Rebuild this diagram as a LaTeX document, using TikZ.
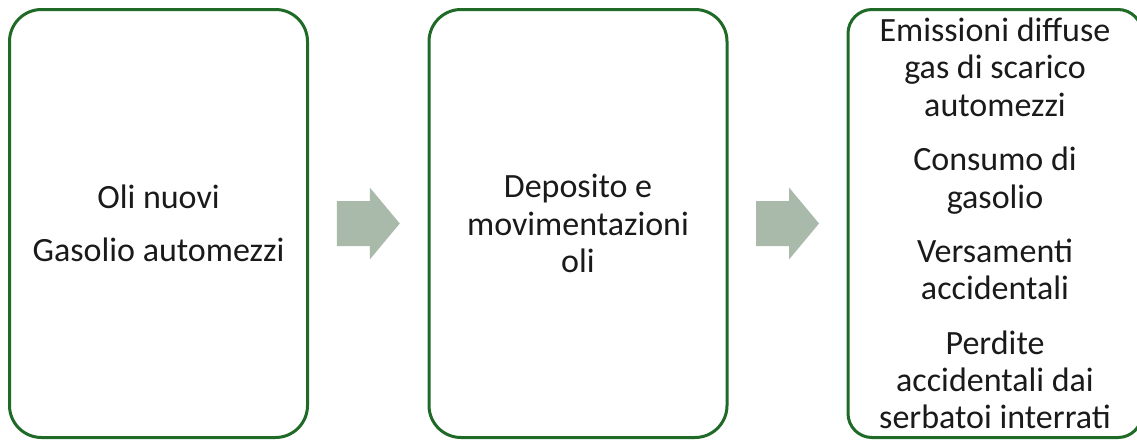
\documentclass[tikz,border=0pt]{standalone}
\usepackage{fontspec}
\setmainfont{Carlito}
\usetikzlibrary{calc}

\definecolor{boxgreen}{HTML}{1F6A27}
\definecolor{arrowfill}{RGB}{169,186,170}
\definecolor{txt}{HTML}{1A1A1A}

\tikzset{
  stagebox/.style={draw=boxgreen, line width=2.25pt, fill=white,
    rounded corners=24pt, minimum width=223.5pt, minimum height=321pt,
    inner sep=0pt, align=center, text=txt,
    font=\fontsize{25.5}{28.1}\selectfont},
  flowarrow/.style={fill=arrowfill, draw=none}
}

% paragraph gap inside a box
\newcommand{\pgap}{\\[12.6pt]}

\begin{document}
\begin{tikzpicture}[x=0.75pt, y=-0.75pt]
  \useasboundingbox (0,0) rectangle (1137,439);

  % the three stages
  \node[stagebox] (b1) at (158.5,223.5) {Oli nuovi\\[12pt] Gasolio automezzi};
  \node[stagebox] (b2) at (578,223.5) {Deposito e\\ movimentazioni\\ oli};
  \node[stagebox, minimum width=220.5pt, rounded corners=18pt] (b3) at (995,223.5)
    {Emissioni diffuse\\ gas di scarico\\ automezzi\pgap
     Consumo di\\ gasolio\pgap
     Versamenti\\ accidentali\pgap
     Perdite\\ accidentali dai\\ serbatoi interrati};

  % block arrows between the stages
  \coordinate (m1) at ($(b1.east)!0.5!(b2.west)$);
  \coordinate (m2) at ($(b2.east)!0.5!(b3.west)$);
  \foreach \m in {m1,m2} {
    \fill[flowarrow] ($(\m)+(-31.5,-22.5)$) -- ($(\m)+(1.5,-22.5)$)
      -- ($(\m)+(1.5,-36)$) -- ($(\m)+(31.5,0)$) -- ($(\m)+(1.5,36)$)
      -- ($(\m)+(1.5,22.5)$) -- ($(\m)+(-31.5,22.5)$) -- cycle;
  }
\end{tikzpicture}
\end{document}
